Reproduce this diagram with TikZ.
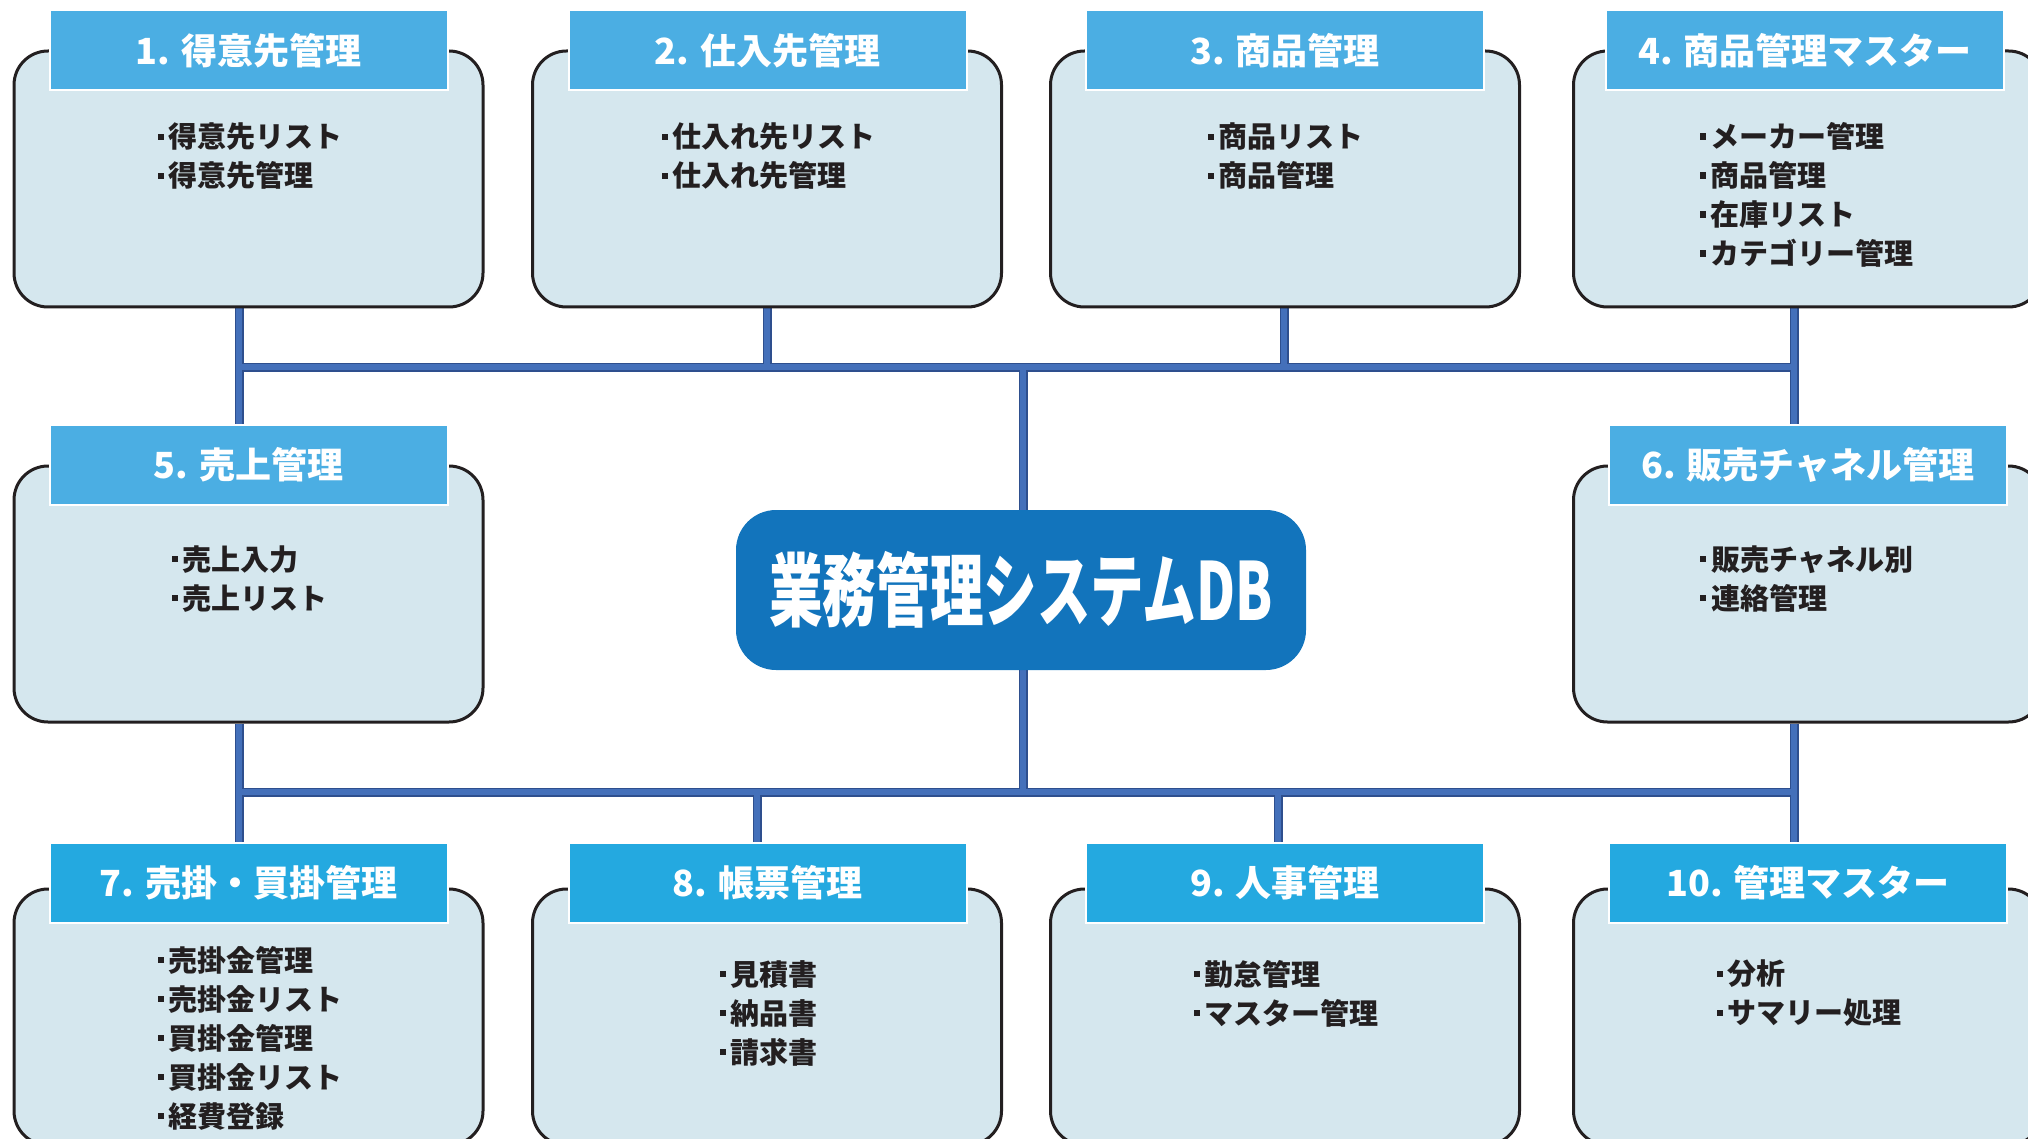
\documentclass[tikz,border=0pt]{standalone}
\usepackage{fontspec}
\newfontfamily\jp{Noto Sans CJK JP}
\usetikzlibrary{calc,backgrounds}
\definecolor{boxfill}{HTML}{D5E7EE}
\definecolor{boxline}{HTML}{231F20}
\definecolor{hdrtop}{HTML}{4BAEE3}
\definecolor{hdrbot}{HTML}{24A9E0}
\definecolor{dbc}{HTML}{1274BC}
\definecolor{itemc}{HTML}{231F20}
\definecolor{busdark}{HTML}{2E4F8E}
\definecolor{buslight}{HTML}{4470BA}
\newcommand\bul{\rule[0.28em]{0.21em}{0.21em}\hspace{0.16em}}
\newcommand\buspaths{
  (t1 |- b1.south) -- (t1 |- h5.north)
  (t2 |- b2.south) -- (t2)
  (t3 |- b3.south) -- (t3)
  (t4 |- b4.south) -- (t4 |- h6.north)
  (t1) -- (t4)
  (tc) -- (tc |- db.north)
  (tc |- db.south) -- (uc)
  (u1 |- b5.south) -- (u1 |- h7.north)
  (u4 |- b6.south) -- (u4 |- h10.north)
  (u2) -- (u2 |- h8.north)
  (u3) -- (u3 |- h9.north)
  (u1) -- (u4)
}
\begin{document}
\begin{tikzpicture}[x=1pt,y=-1pt,
  box/.style={draw=boxline, line width=3pt, fill=boxfill, rounded corners=34pt,
    minimum width=469pt, minimum height=256pt, inner sep=0pt},
  hdrA/.style={fill=hdrtop, draw=white, line width=2pt, minimum width=398pt,
    minimum height=80pt, inner sep=0pt, text=white,
    font=\jp\bfseries\fontsize{36}{40}\selectfont},
  hdrB/.style={hdrA, fill=hdrbot},
  items/.style={align=left, inner sep=0pt, text=itemc,
    font=\jp\bfseries\fontsize{29}{39}\selectfont},
  db/.style={fill=dbc, rounded corners=40pt, minimum width=570pt,
    minimum height=160pt, inner sep=0pt, text=white,
    font=\jp\bfseries\fontsize{80}{90}\selectfont}]
\useasboundingbox (0,0) rectangle (2028,1139);
\clip (0,0) rectangle (2028,1139);

% junction coordinates
\coordinate (t1) at (239,367);
\coordinate (t2) at (767,367);
\coordinate (t3) at (1284,367);
\coordinate (t4) at (1794,367);
\coordinate (tc) at (1023,367);
\coordinate (u1) at (239,792);
\coordinate (u2) at (757,792);
\coordinate (u3) at (1278,792);
\coordinate (u4) at (1794,792);
\coordinate (uc) at (1023,792);

% top row
\node[box] (b1) at (248.5,179) {};
\node[box] (b2) at (767,179) {};
\node[box] (b3) at (1285,179) {};
\node[box] (b4) at (1808,179) {};
\node[hdrA] (h1) at (248.5,50.5) {1. 得意先管理};
\node[hdrA] (h2) at (767.5,50.5) {2. 仕入先管理};
\node[hdrA] (h3) at (1285,50.5) {3. 商品管理};
\node[hdrA] (h4) at (1805,50.5) {4. 商品管理マスター};
\node[items] (i1) at (250,156.5) {\bul 得意先リスト\\\bul 得意先管理};
\node[items] (i2) at (769,156.5) {\bul 仕入れ先リスト\\\bul 仕入れ先管理};
\node[items] (i3) at (1286,156.5) {\bul 商品リスト\\\bul 商品管理};
\node[items] (i4) at (1807,195) {\bul メーカー管理\\\bul 商品管理\\\bul 在庫リスト\\\bul カテゴリー管理};

% middle row
\node[box] (b5) at (248.5,594) {};
\node[box] (b6) at (1808,594) {};
\node[hdrA] (h5) at (248.5,465) {5. 売上管理};
\node[hdrA] (h6) at (1808,465) {6. 販売チャネル管理};
\node[items] (i5) at (250,579) {\bul 売上入力\\\bul 売上リスト};
\node[items] (i6) at (1807,579) {\bul 販売チャネル別\\\bul 連絡管理};

% center
\node[db] (db) at (1021,590) {\scalebox{0.67}[1]{業務管理システムDB}};

% bottom row
\node[box] (b7) at (248.5,1017) {};
\node[box] (b8) at (767,1017) {};
\node[box] (b9) at (1285,1017) {};
\node[box] (b10) at (1808,1017) {};
\node[hdrB] (h7) at (248.5,882.5) {7. 売掛・買掛管理};
\node[hdrB] (h8) at (767.5,882.5) {8. 帳票管理};
\node[hdrB] (h9) at (1285,882.5) {9. 人事管理};
\node[hdrB] (h10) at (1808,882.5) {10. 管理マスター};
\node[items] (i7) at (250,1038) {\bul 売掛金管理\\\bul 売掛金リスト\\\bul 買掛金管理\\\bul 買掛金リスト\\\bul 経費登録};
\node[items] (i8) at (769,1013) {\bul 見積書\\\bul 納品書\\\bul 請求書};
\node[items] (i9) at (1286,993.5) {\bul 勤怠管理\\\bul マスター管理};
\node[items] (i10) at (1809,993.5) {\bul 分析\\\bul サマリー処理};

% connectors
\begin{scope}[on background layer]
  \draw[busdark, line width=9pt] \buspaths;
  \draw[buslight, line width=5.5pt] \buspaths;
\end{scope}
\end{tikzpicture}
\end{document}
